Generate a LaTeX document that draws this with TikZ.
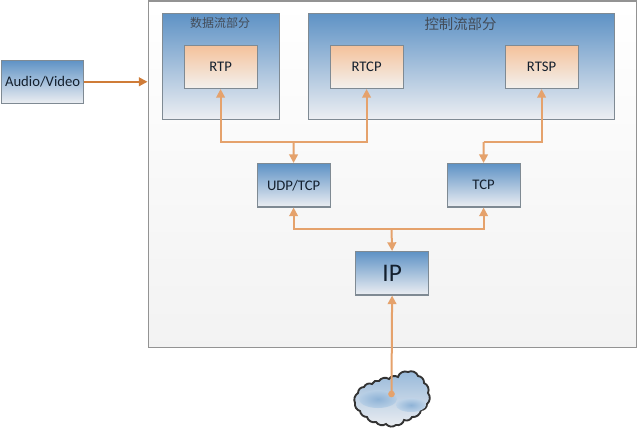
\documentclass[tikz,border=0pt]{standalone}
\usepackage{fontspec}
\setmainfont{Carlito}
\newfontfamily\cjkf{Noto Sans CJK SC}
\usetikzlibrary{arrows.meta,shadings}
\definecolor{bluetop}{HTML}{5E92C5}
\definecolor{bluebot}{HTML}{ECEEF2}
\definecolor{orgtop}{HTML}{F4C19A}
\definecolor{orgbot}{HTML}{F3F1EE}
\definecolor{edgegray}{HTML}{7F8A93}
\definecolor{linkc}{HTML}{E5A26C}
\definecolor{linkd}{HTML}{CF7C38}
\definecolor{txtc}{HTML}{14202E}
\tikzset{
  x=0.75pt,y=-0.75pt,
  boxbase/.style={draw=edgegray,line width=0.9pt,anchor=north west,inner sep=0pt,text=txtc},
  bluebox/.style={boxbase,top color=bluetop,bottom color=bluebot},
  orgbox/.style={boxbase,top color=orgtop,bottom color=orgbot},
  small/.style={minimum width=54.75pt,minimum height=32.5pt,font=\fontsize{11}{13}\selectfont},
  outerbox/.style={draw=gray!85,line width=0.8pt,anchor=north west,inner sep=0pt,top color=white,bottom color=black!5},
  group/.style={bluebox,minimum height=79.5pt},
  grouptitle/.style={text=txtc!80!white,font=\cjkf\fontsize{9}{11}\selectfont,inner sep=0pt},
  link/.style={draw=linkc,line width=1.5pt},
  tipb/.style={-{Triangle[length=6.5pt,width=6.5pt]}},
}
\begin{document}
\begin{tikzpicture}
\useasboundingbox (0,0) rectangle (640,432);
\node[outerbox,minimum width=366pt,minimum height=259.5pt] (outer) at (147.5,0.5) {};
\node[group,minimum width=87.75pt] (data) at (161.5,12.5) {};
\node[group,minimum width=229.5pt] (ctrl) at (307.5,12.5) {};
\node[grouptitle] (datat) at (220,22.5) {数据流部分};
\node[grouptitle,font=\cjkf\fontsize{10.8}{12}\selectfont] (ctrlt) at (460.5,24) {控制流部分};
\node[orgbox,small] (rtp) at (183.5,44.5) {RTP};
\node[orgbox,small] (rtcp) at (329.5,44.5) {RTCP};
\node[orgbox,small] (rtsp) at (504.5,44.5) {RTSP};
\node[bluebox,small] (udp) at (256.5,163) {UDP/TCP};
\node[bluebox,small] (tcp) at (446.5,163) {TCP};
\node[bluebox,small,font=\fontsize{19}{21}\selectfont] (ip) at (355,251) {IP};
\node[bluebox,minimum width=61.5pt,minimum height=32.5pt,font=\fontsize{11}{13}\selectfont] (av) at (1,59.5) {Audio/Video};
% cloud
\path[draw=black!80,line width=1.4pt,top color=bluetop!65!white,bottom color=bluebot]
  (355,403) to[bend left=40] (358,393) to[bend left=45] (364,387) to[bend left=45] (372,384) to[bend left=45] (379,381)
  to[bend left=45] (389,379) to[bend left=45] (398,377) to[bend left=50] (408,372) to[bend left=50] (418,376)
  to[bend left=45] (424,383) to[bend left=45] (428,393)
  to[bend left=45] (427,404) to[bend left=45] (421,410) to[bend left=45] (412,417) to[bend left=45] (404,420) to[bend left=45] (396,425)
  to[bend left=45] (386,424) to[bend left=45] (376,422) to[bend left=45] (367,417) to[bend left=40] (360,411) to[bend left=40] (355,403);
\shade[inner color=bluetop!70!white,outer color=bluetop!45!white] (378,399) ellipse (19 and 9);
\shade[inner color=bluetop!70!white,outer color=bluetop!40!white] (411,405) ellipse (15 and 7);
\coordinate (cloudc) at (391.5,394);
% connectors
\coordinate (busa) at (293.5,142);
\coordinate (busb) at (483.5,142);
\coordinate (busc) at (391.5,229);
\draw[link,tipb] (busa) -- (udp.north);
\draw[link,tipb] (busa) -| (rtp.south);
\draw[link,tipb] (busa) -| (rtcp.south);
\draw[link,tipb] (busb) -- (tcp.north);
\draw[link,tipb] (busb) -| (rtsp.south);
\draw[link,tipb] (busc) -- (ip.north);
\draw[link,tipb] (busc) -| (udp.south);
\draw[link,tipb] (busc) -| (tcp.south);
\draw[link,tipb] (cloudc) -- (ip.south);
\fill[linkc] (cloudc) circle (2.5pt);
\draw[draw=linkd,line width=1.5pt,tipb] (av.east) -- (outer.west |- av.east);
\end{tikzpicture}
\end{document}
